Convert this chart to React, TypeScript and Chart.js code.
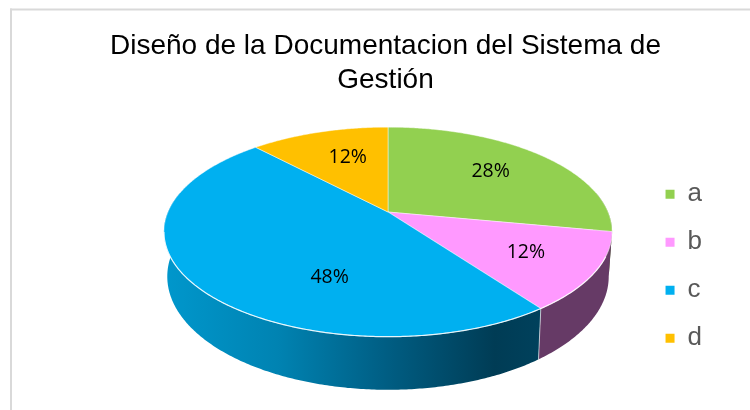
import React, { useEffect, useRef } from "react";
import { Chart, registerables } from "chart.js";

Chart.register(...registerables);

const categories = ["a", "b", "c", "d"];
const shares = [28, 12, 48, 12];
const titleLines = ["Diseño de la Documentacion del Sistema de", "Gestión"];
const faceColors = ["#92D050", "#FF99FF", "#00B0F0", "#FFC000"];

// Perspective of the tilted disc
const CX = 388, CY = 212, RX = 220, RY = 101, PERSP = 0.19, DEPTH = 43, BOTTOM_SCALE = 0.985;
const labelRadius = [0.665, 0.69, 0.62, 0.64];
const labelTurnDeg = [-1, 0, -28, 3];

function project(t: number, r = 1, bottom = false) {
  const u = Math.cos(t) * r, v = Math.sin(t) * r;
  const k = 1 / (1 - PERSP * v);
  const s = bottom ? BOTTOM_SCALE : 1;
  return { x: CX + RX * u * k * s, y: CY + RY * v * k + (bottom ? DEPTH * k : 0) };
}

function trace(ctx: CanvasRenderingContext2D, a: number, b: number, bottom = false, first = false) {
  const n = Math.max(2, Math.ceil(Math.abs(b - a) / 0.01));
  for (let i = 0; i <= n; i++) {
    const p = project(a + ((b - a) * i) / n, 1, bottom);
    if (i === 0 && first) ctx.moveTo(p.x, p.y);
    else ctx.lineTo(p.x, p.y);
  }
}

const tiltedPie = {
  id: "tiltedPie",
  beforeDraw(chart: any) {
    const { ctx } = chart;
    ctx.save();
    ctx.fillStyle = "#FFFFFF";
    ctx.fillRect(0, 0, 750, 410);
    ctx.fillStyle = "#D9D9D9";
    ctx.fillRect(10, 8.5, 740, 2);
    ctx.fillRect(10, 8.5, 2, 402);
    ctx.restore();
  },
  beforeDatasetDraw(chart: any) {
    const { ctx } = chart;
    const arcs = chart.getDatasetMeta(0).data;
    ctx.save();

    const blue = ctx.createLinearGradient(165, 0, 540, 0);
    blue.addColorStop(0, "#0097CC");
    blue.addColorStop(0.3, "#0083B2");
    blue.addColorStop(0.58, "#005F85");
    blue.addColorStop(0.88, "#003C55");
    blue.addColorStop(1, "#00415C");
    const wallFills: any[] = ["#4F7A2A", "#663A66", blue, "#8A6800"];

    arcs.forEach((arc: any, i: number) => {
      const a = Math.max(arc.startAngle, -0.2);
      const b = Math.min(arc.endAngle, Math.PI + 0.2);
      if (b <= a) return;
      ctx.beginPath();
      trace(ctx, a, b, false, true);
      trace(ctx, b, a, true);
      ctx.closePath();
      ctx.fillStyle = wallFills[i];
      ctx.fill();
    });

    arcs.forEach((arc: any, i: number) => {
      ctx.beginPath();
      ctx.moveTo(CX, CY);
      trace(ctx, arc.startAngle, arc.endAngle);
      ctx.closePath();
      ctx.fillStyle = faceColors[i];
      ctx.fill();
      ctx.strokeStyle = "rgba(255,255,255,0.45)";
      ctx.lineWidth = 1;
      ctx.stroke();
    });

    ctx.beginPath();
    trace(ctx, 0.42, 2.95, false, true);
    ctx.strokeStyle = "rgba(255,255,255,0.8)";
    ctx.lineWidth = 1.2;
    ctx.stroke();

    const edge = arcs[1].endAngle;
    const t = project(edge), bt = project(edge, 1, true);
    ctx.beginPath();
    ctx.moveTo(t.x, t.y);
    ctx.lineTo(bt.x, bt.y);
    ctx.strokeStyle = "rgba(255,255,255,0.6)";
    ctx.lineWidth = 1;
    ctx.stroke();

    ctx.restore();
    return false;
  },
  afterDatasetsDraw(chart: any) {
    const { ctx } = chart;
    const arcs = chart.getDatasetMeta(0).data;
    const total = shares.reduce((s, v) => s + v, 0);
    ctx.save();
    ctx.font = '19.5px "Open Sans"';
    ctx.fillStyle = "#000000";
    ctx.textAlign = "center";
    ctx.textBaseline = "middle";
    arcs.forEach((arc: any, i: number) => {
      const mid = (arc.startAngle + arc.endAngle) / 2 + (labelTurnDeg[i] * Math.PI) / 180;
      const p = project(mid, labelRadius[i]);
      ctx.fillText(`${Math.round((shares[i] / total) * 100)}%`, p.x, p.y);
    });
    ctx.restore();
  },
};

export default function App() {
  const ref = useRef<HTMLCanvasElement>(null);
  useEffect(() => {
    const chart = new Chart(ref.current!, {
      type: "pie",
      data: {
        labels: categories,
        datasets: [{ data: shares, backgroundColor: faceColors, borderWidth: 0 }],
      },
      options: {
        responsive: false,
        animation: false,
        layout: { padding: { left: 59, right: 38, top: 30, bottom: 0 } },
        plugins: {
          tooltip: { enabled: false },
          title: {
            display: true,
            text: titleLines,
            color: "#000000",
            font: { family: '"Liberation Sans"', size: 28, weight: "normal", lineHeight: 1.19 },
            padding: { top: 0, bottom: 26 },
          },
          legend: {
            position: "right",
            fullSize: false,
            labels: {
              boxWidth: 9,
              boxHeight: 9,
              padding: 22,
              color: "#595959",
              font: { family: '"Liberation Sans"', size: 26 },
            },
          },
        },
      },
      plugins: [tiltedPie],
    } as any);
    return () => chart.destroy();
  }, []);
  return (
    <canvas
      ref={ref}
      width={750}
      height={410}
      style={{ position: "fixed", left: 0, top: 0, display: "block" }}
    />
  );
}
